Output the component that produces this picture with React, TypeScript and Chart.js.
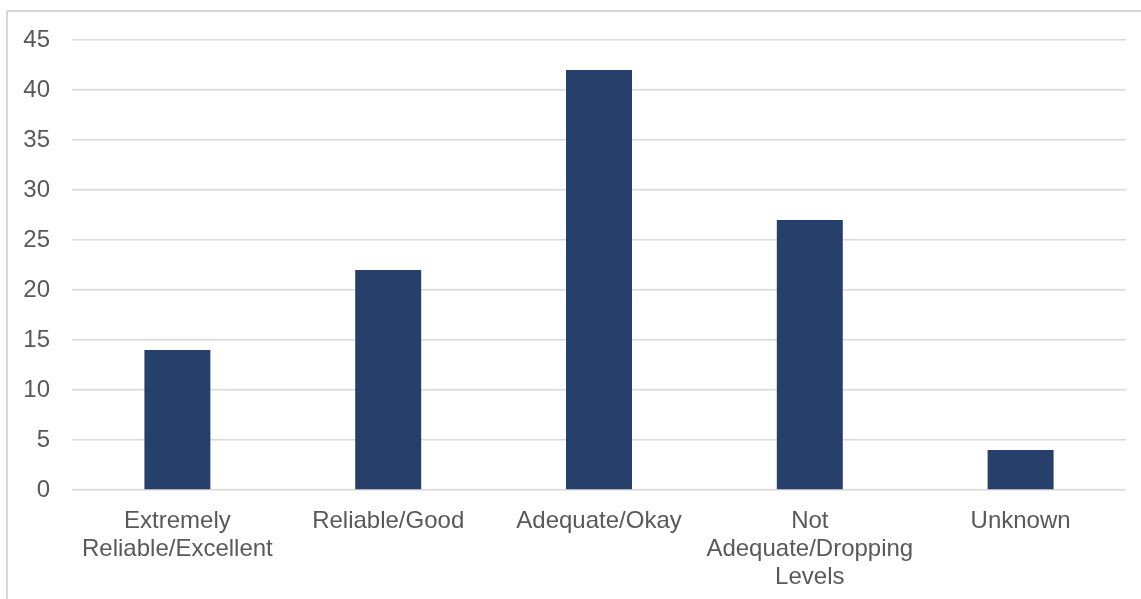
import React, { useEffect, useRef } from "react";
import { Chart, registerables } from "chart.js";

Chart.register(...registerables);

const categories: (string | string[])[] = [
  ["Extremely", "Reliable/Excellent"],
  "Reliable/Good",
  "Adequate/Okay",
  ["Not", "Adequate/Dropping", "Levels"],
  "Unknown",
];
const values: number[] = [14, 22, 42, 27, 4];
const yTicks: number[] = [0, 5, 10, 15, 20, 25, 30, 35, 40, 45];

const BAR_COLOR = "#27406B";
const GRID_COLOR = "#D9D9D9";
const TEXT_COLOR = "#595959";
const FONT = '"Liberation Sans", Arial, sans-serif';

export default function App() {
  const canvasRef = useRef<HTMLCanvasElement | null>(null);

  useEffect(() => {
    const ctx = canvasRef.current;
    if (!ctx) return;
    const chart = new Chart(ctx, {
      type: "bar",
      data: {
        labels: categories,
        datasets: [
          {
            data: values,
            backgroundColor: BAR_COLOR,
            borderWidth: 0,
            barPercentage: 1,
            categoryPercentage: 0.313,
          },
        ],
      },
      options: {
        responsive: false,
        animation: false,
        layout: { padding: { left: 0, top: 40, right: 15, bottom: 0 } },
        plugins: {
          legend: { display: false },
          tooltip: { enabled: false },
          title: { display: false },
        },
        scales: {
          x: {
            grid: { display: false },
            border: { display: false },
            ticks: {
              color: TEXT_COLOR,
              font: { family: FONT, size: 24, lineHeight: 1.15 },
              padding: 10,
              maxRotation: 0,
              minRotation: 0,
              autoSkip: false,
            },
            afterFit: (scale: any) => {
              scale.height = 109;
            },
          },
          y: {
            min: 0,
            max: 45,
            afterBuildTicks: (scale: any) => {
              scale.ticks = yTicks.map((v) => ({ value: v }));
            },
            grid: {
              color: GRID_COLOR,
              lineWidth: 1.5,
              drawTicks: false,
            },
            border: { display: false },
            ticks: {
              color: TEXT_COLOR,
              font: { family: FONT, size: 24 },
              padding: 22,
            },
            afterFit: (scale: any) => {
              scale.width = 72;
            },
          },
        },
      },
    });
    return () => chart.destroy();
  }, []);

  return (
    <>
      <div
        style={{
          position: "fixed",
          left: 6,
          top: 10,
          width: 1135,
          height: 589,
          borderLeft: `2px solid ${GRID_COLOR}`,
          borderTop: `2px solid ${GRID_COLOR}`,
          boxSizing: "border-box",
          background: "#fff",
        }}
      />
      <div style={{ position: "fixed", left: 0, top: 0, width: 1141, height: 599 }}>
        <canvas ref={canvasRef} width={1141} height={599} />
      </div>
    </>
  );
}
